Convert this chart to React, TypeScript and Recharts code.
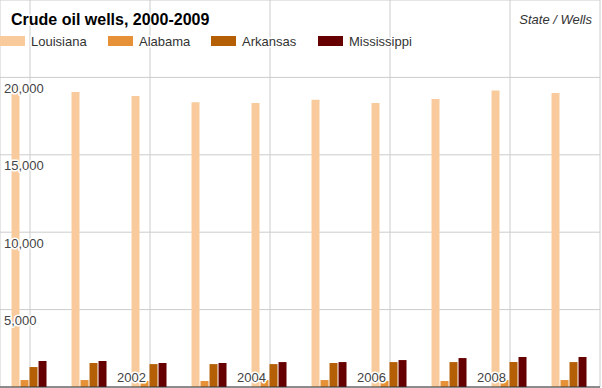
import React from 'react';
import { BarChart, Bar, XAxis, YAxis, CartesianGrid } from 'recharts';

const years = ['2000', '2001', '2002', '2003', '2004', '2005', '2006', '2007', '2008', '2009'];
const louisiana = [19500, 19050, 18800, 18400, 18350, 18550, 18350, 18600, 19150, 19000];
const alabama = [450, 450, 390, 390, 450, 450, 390, 390, 450, 450];
const arkansas = [1290, 1550, 1480, 1480, 1480, 1550, 1610, 1610, 1610, 1610];
const mississippi = [1680, 1680, 1550, 1550, 1610, 1610, 1740, 1870, 1940, 1940];
const yTicks = [0, 5000, 10000, 15000, 20000, 25000];

const seriesNames = ['Louisiana', 'Alabama', 'Arkansas', 'Mississippi'];
const seriesColors = ['#f9cb9c', '#e69138', '#b45f06', '#660000'];

const data = years.map((year, i) => ({
  year,
  Louisiana: louisiana[i],
  Alabama: alabama[i],
  Arkansas: arkansas[i],
  Mississippi: mississippi[i],
}));

const FONT = 'Arial, "Liberation Sans", sans-serif';
const halo = { stroke: '#fff', strokeWidth: 3, paintOrder: 'stroke' as const, strokeLinejoin: 'round' as const };

const YTick = ({ y, payload }: any) => {
  const v = payload.value;
  if (v === 0 || v === 25000) return <g />;
  return (
    <text x={4} y={y + 15.5} fontSize={13} fontFamily={FONT} fill="#444" textAnchor="start" {...halo}>
      {v.toLocaleString('en-US')}
    </text>
  );
};

const XTick = ({ x, payload }: any) => {
  if (payload.value === '2000') return <g />;
  // labels sit inside the plot, just left of their grid line
  return (
    <text x={x - 4} y={382} fontSize={13} fontFamily={FONT} fill="#444" textAnchor="end" {...halo}>
      {payload.value}
    </text>
  );
};

const legendX = [0, 108, 211, 318];

const App = () => {
  return (
    <div style={{ position: 'absolute', left: 0, top: 0, width: 602, height: 388, background: '#fff' }}>
      <BarChart
        width={602}
        height={388}
        data={data}
        margin={{ top: 0, right: 2, bottom: 0, left: -1 }}
        barCategoryGap="19.2%"
        barGap={1}
      >
        <CartesianGrid stroke="#ccc" />
        {seriesNames.map((name, i) => (
          <Bar key={name} dataKey={name} fill={seriesColors[i]} isAnimationActive={false} />
        ))}
        <XAxis
          dataKey="year"
          height={1}
          interval={1}
          tickLine={false}
          axisLine={{ stroke: '#333' }}
          tick={<XTick />}
        />
        <YAxis
          width={1}
          domain={[0, 25000]}
          ticks={yTicks}
          interval={0}
          tickLine={false}
          axisLine={false}
          tick={<YTick />}
        />
      </BarChart>
      <svg
        width={602}
        height={388}
        style={{ position: 'absolute', left: 0, top: 0, pointerEvents: 'none' }}
      >
        <text x={11} y={24.5} fontSize={16} fontWeight="bold" fontFamily={FONT} fill="#000" {...halo}>
          Crude oil wells, 2000-2009
        </text>
        <text x={592} y={24} fontSize={13} fontStyle="italic" fontFamily={FONT} fill="#333" textAnchor="end" {...halo}>
          State / Wells
        </text>
        {seriesNames.map((name, i) => (
          <g key={name}>
            <rect x={legendX[i]} y={36} width={25} height={10} fill={seriesColors[i]} />
            <text x={legendX[i] + 31} y={46} fontSize={13} fontFamily={FONT} fill="#333" {...halo}>
              {name}
            </text>
          </g>
        ))}
      </svg>
    </div>
  );
};

export default App;
